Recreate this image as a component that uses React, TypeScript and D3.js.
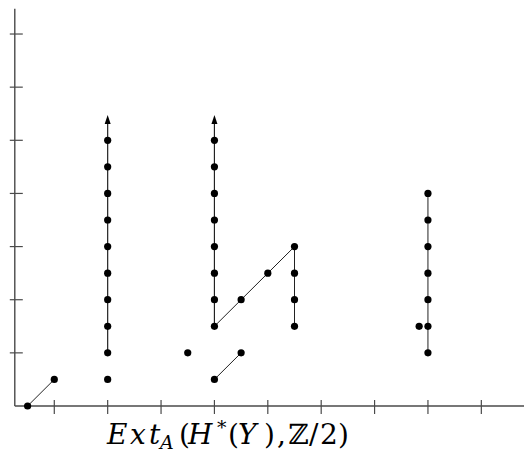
import { scaleLinear, range } from "d3";

// dots of the chart: [stem, filtration]
const dotsA = [[0, 0], [1, 1]];
const dotsB = [[3, 1], [3, 2], [3, 3], [3, 4], [3, 5], [3, 6], [3, 7], [3, 8], [3, 9], [3, 10]];
const dotsC = [[6, 2], [7, 1], [8, 2]];
const dotsD = [[7, 3], [7, 4], [7, 5], [7, 6], [7, 7], [7, 8], [7, 9], [7, 10], [8, 4], [9, 5], [10, 6], [10, 5], [10, 4], [10, 3]];
const dotsE = [[15, 2], [15, 3], [15, 4], [15, 5], [15, 6], [15, 7], [15, 8], [14.67, 3]];

// connecting lines
const segments = [
  [[0, 0], [1, 1]],
  [[7, 1], [8, 2]],
  [[7, 3], [10, 6]],
  [[10, 6], [10, 3]],
  [[15, 2], [15, 8]],
];

// towers going on forever (start, tip)
const towers = [
  [[3, 2], [3, 10.95]],
  [[7, 3], [7, 10.95]],
];

const xTicks = range(1, 19, 2);
const yTicks = range(2, 15, 2);

// axis title, glyph by glyph: text, x, style
const titleGlyphs = [
  { t: "E", x: 107, it: true },
  { t: "x", x: 130, it: true },
  { t: "t", x: 149, it: true },
  { t: "A", x: 160, it: true, sub: true },
  { t: "(", x: 179 },
  { t: "H", x: 188, it: true },
  { t: "*", x: 217, sup: true },
  { t: "(", x: 228 },
  { t: "Y", x: 238, it: true },
  { t: ")", x: 264 },
  { t: ",", x: 277 },
  { t: "ℤ", x: 288 },
  { t: "/", x: 309 },
  { t: "2", x: 320 },
  { t: ")", x: 338 },
];

const W = 524;
const H = 454;

export default function App() {
  const x = scaleLinear().domain([0, 18]).range([27.6, 27.6 + 18 * 26.69]);
  const y = scaleLinear().domain([0, 14]).range([406, 406 - 14 * 26.57]);

  const allDots = [...dotsA, ...dotsB, ...dotsC, ...dotsD, ...dotsE];
  const axisColor = "#4a4a4a";

  return (
    <svg width={W} height={H} style={{ position: "absolute", left: 0, top: 0, background: "#fff" }}>
      {/* y axis */}
      <line x1={x(-0.48)} x2={x(-0.48)} y1={y(14.95)} y2={y(0)} stroke={axisColor} strokeWidth={1.4} />
      {yTicks.map((t) => (
        <line key={"yt" + t} x1={x(-0.48) - 5} x2={x(-0.48) + 8} y1={y(t)} y2={y(t)} stroke={axisColor} strokeWidth={1.2} />
      ))}
      {/* x axis */}
      <line x1={x(-0.48)} x2={W} y1={y(0)} y2={y(0)} stroke={axisColor} strokeWidth={1.4} />
      {xTicks.map((t) => (
        <line key={"xt" + t} x1={x(t)} x2={x(t)} y1={y(0) - 6} y2={y(0) + 8} stroke={axisColor} strokeWidth={1.2} />
      ))}

      {segments.map((s, i) => (
        <line key={"s" + i} x1={x(s[0][0])} y1={y(s[0][1])} x2={x(s[1][0])} y2={y(s[1][1])} stroke="#222" strokeWidth={1} />
      ))}
      {towers.map((s, i) => {
        const tx = x(s[1][0]);
        const ty = y(s[1][1]);
        return (
          <g key={"t" + i}>
            <line x1={x(s[0][0])} y1={y(s[0][1])} x2={tx} y2={ty + 4} stroke="#222" strokeWidth={1.2} />
            <path d={`M${tx},${ty} L${tx - 3},${ty + 9} L${tx + 3},${ty + 9} Z`} fill="#000" />
          </g>
        );
      })}
      {allDots.map((d, i) => (
        <circle key={"d" + i} cx={x(d[0])} cy={y(d[1])} r={3.6} fill="#000" />
      ))}

      <text fontFamily="'DejaVu Serif', 'Liberation Serif', serif" fill="#000">
        {titleGlyphs.map((g, i) => (
          <tspan
            key={"g" + i}
            x={g.x}
            y={g.sub ? 449 : g.sup ? 434 : 444}
            fontStyle={g.it ? "italic" : "normal"}
            fontSize={g.sub || g.sup ? 19 : 28}
          >
            {g.t}
          </tspan>
        ))}
      </text>
    </svg>
  );
}
